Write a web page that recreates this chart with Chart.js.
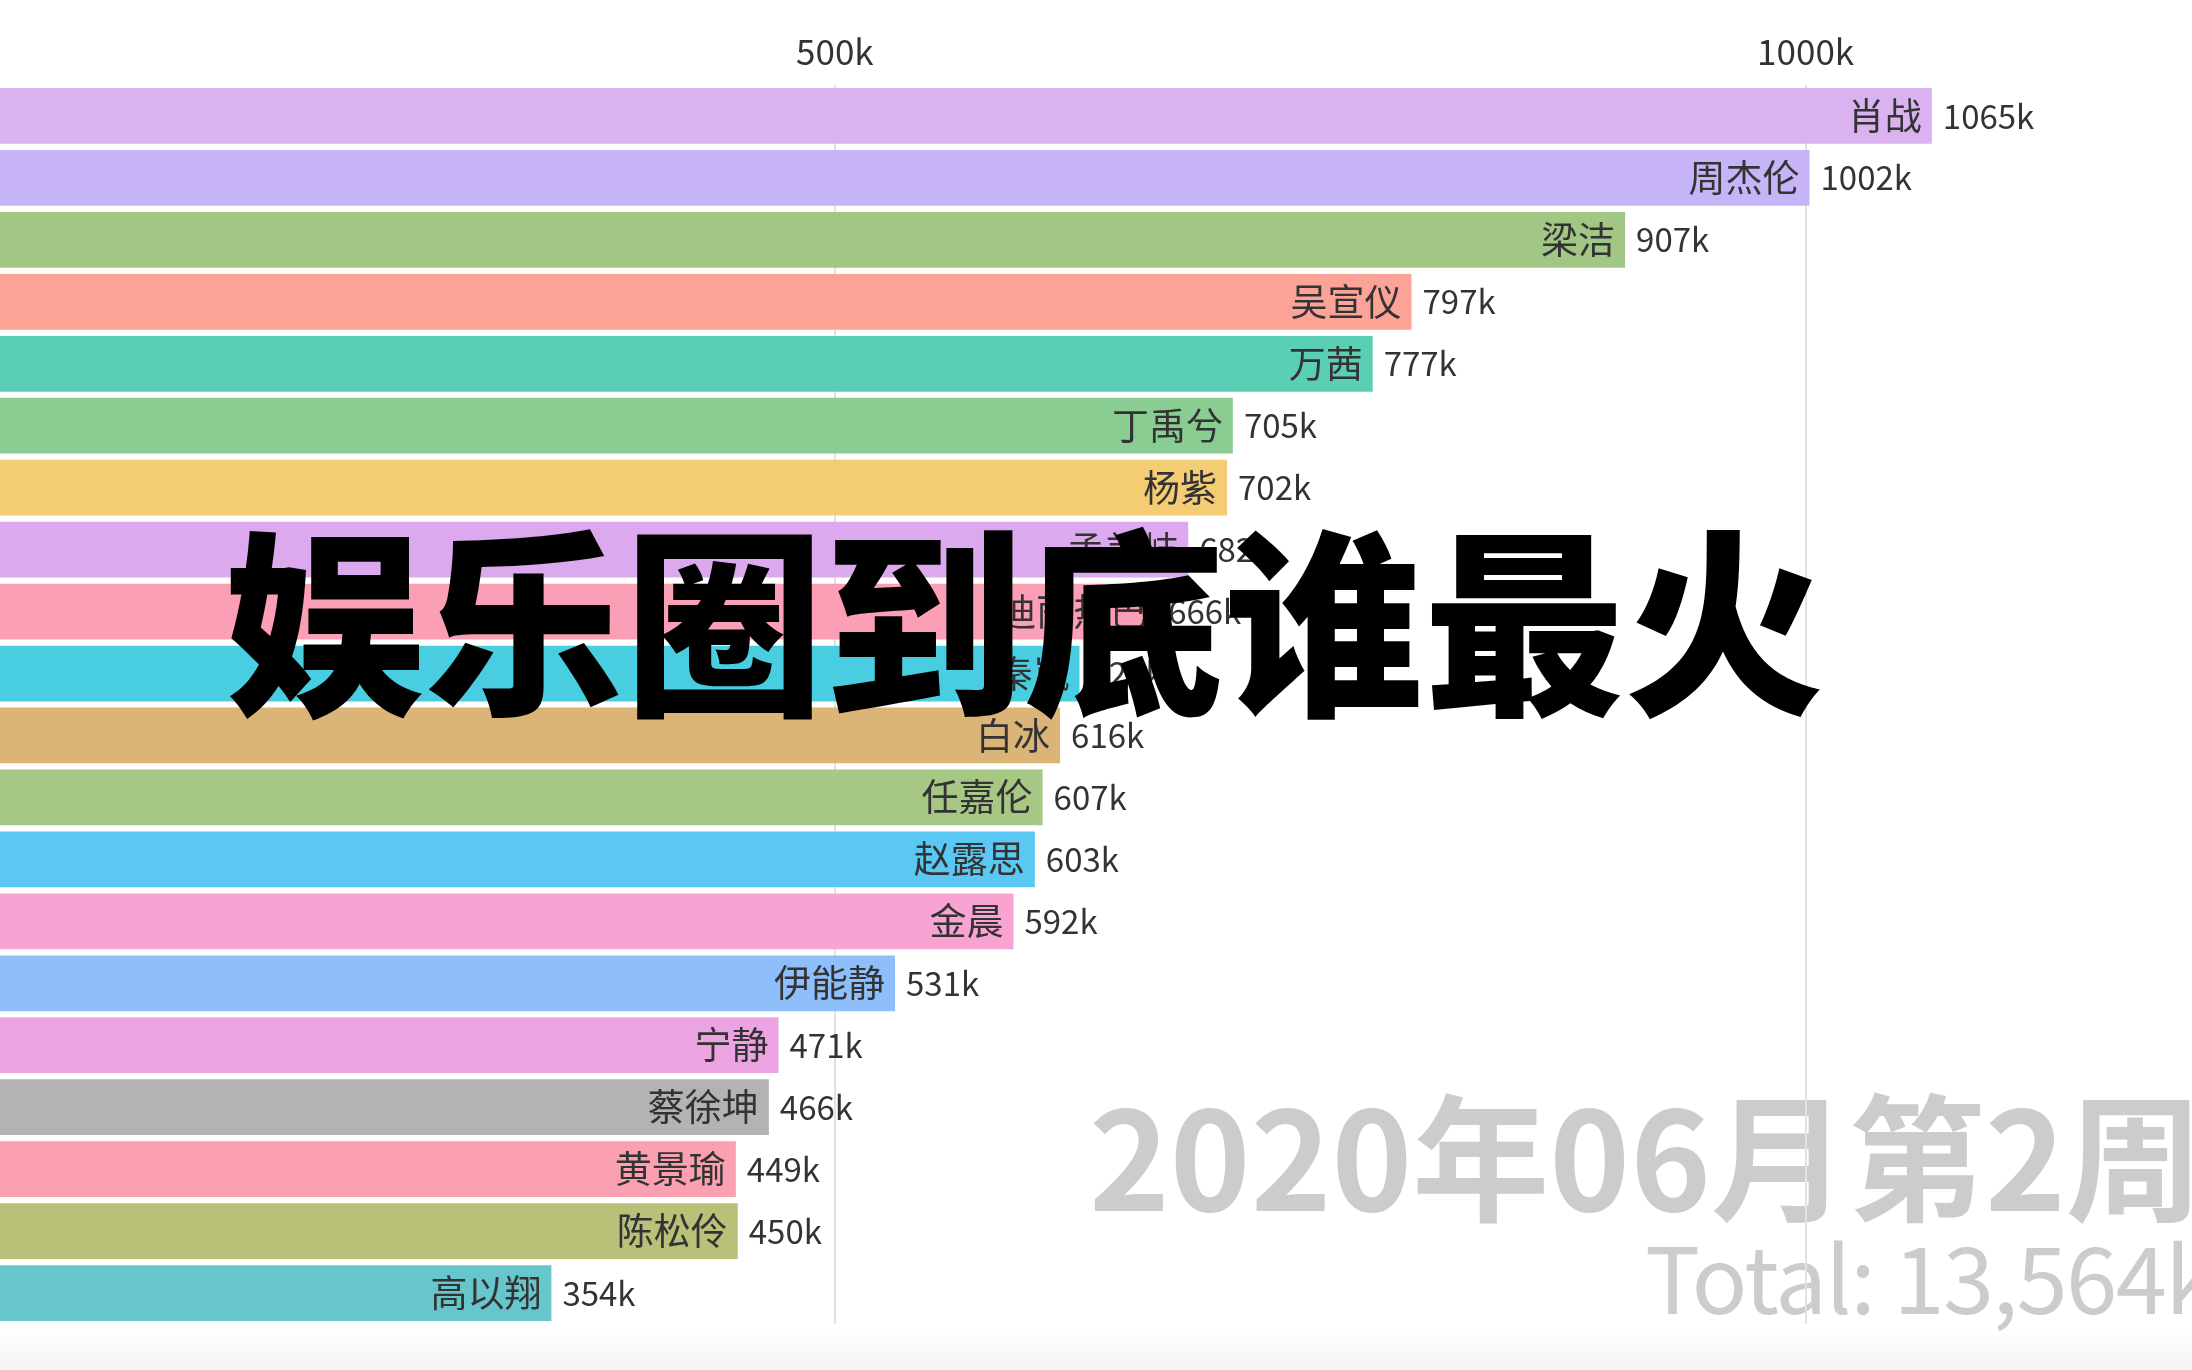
<!DOCTYPE html>
<html>
<head>
<meta charset="utf-8">
<script src="https://cdn.jsdelivr.net/npm/chart.js@4/dist/chart.umd.min.js"></script>
<style>
  html, body { margin: 0; padding: 0; width: 2192px; height: 1370px; overflow: hidden; background: #ffffff; }
  #wrap { position: relative; width: 2192px; height: 1370px; overflow: hidden;
          background: linear-gradient(to bottom, #ffffff 0px, #ffffff 1330px, #f4f4f4 1370px); }
  #chartBox { position: absolute; left: 0; top: 0; width: 2192px; height: 1370px; z-index: 2; }
  .bgText { position: absolute; z-index: 1; white-space: nowrap; font-family: "Noto Sans CJK SC", sans-serif; color: #cccccc; }
  #date { left: 1089px; top: 1083px; font-size: 137px; font-weight: 700; line-height: 1; }
  #total { left: 1645px; top: 1228px; font-size: 92px; font-weight: 400; line-height: 1; letter-spacing: -1.5px; }
  #title { position: absolute; z-index: 3; left: 224px; top: 513px; white-space: nowrap;
           font-family: "Noto Sans CJK SC", sans-serif; font-weight: 900; font-size: 200px; line-height: 1; color: #000; }
</style>
</head>
<body>
<div id="wrap">
  <div id="date" class="bgText"></div>
  <div id="total" class="bgText"></div>
  <div id="chartBox"><canvas id="c"></canvas></div>
  <div id="title"></div>
</div>
<script>
// ---- data ----
const titleText = "娱乐圈到底谁最火";
const periodLabel = "2020年06月第2周";
const totalLabel = "Total: 13,564k";
const names = ["肖战","周杰伦","梁洁","吴宣仪","万茜","丁禹兮","杨紫","孟美岐","迪丽热巴","秦岚",
               "白冰","任嘉伦","赵露思","金晨","伊能静","宁静","蔡徐坤","黄景瑜","陈松伶","高以翔"];
const values = [1065,1002,907,797,777,705,702,682,666,626,616,607,603,592,531,471,466,449,450,354]; // in thousands
const colors = ["#dab2f0","#c7b4f8","#a2c784","#fca398","#5bcfb6","#8acd93","#f4cc73","#dca8ee","#fa9fb5","#48cee0",
                "#dbb477","#a7c784","#5bc8f4","#f9a3d3","#8ebffb","#eca3e1","#b3b3b3","#fba0b1","#b9c178","#67c6cc"];
const tickValues = [500, 1000];
const axisMin = 70;
const axisMax = 1199;

document.getElementById('title').textContent = titleText;
document.getElementById('date').textContent = periodLabel;
document.getElementById('total').textContent = totalLabel;

const FONT = '"Noto Sans CJK SC", sans-serif';

const barLabels = {
  id: 'barLabels',
  afterDatasetsDraw(chart) {
    const ctx = chart.ctx;
    const meta = chart.getDatasetMeta(0);
    ctx.save();
    ctx.fillStyle = '#333333';
    ctx.textBaseline = 'middle';
    meta.data.forEach((el, i) => {
      ctx.font = '37px ' + FONT;
      ctx.textAlign = 'right';
      ctx.fillText(names[i], el.x - 10, el.y);
      ctx.font = '33px ' + FONT;
      ctx.textAlign = 'left';
      ctx.fillText(values[i] + 'k', el.x + 11, el.y);
    });
    ctx.restore();
  }
};

new Chart(document.getElementById('c'), {
  type: 'bar',
  data: {
    labels: names,
    datasets: [{
      data: values,
      backgroundColor: colors,
      borderWidth: 0,
      barPercentage: 0.9,
      categoryPercentage: 1.0
    }]
  },
  options: {
    indexAxis: 'y',
    responsive: true,
    maintainAspectRatio: false,
    animation: false,
    layout: { padding: { left: 0, right: 0, top: 0, bottom: 46 } },
    plugins: { legend: { display: false }, tooltip: { enabled: false } },
    scales: {
      x: {
        position: 'top',
        min: axisMin,
        max: axisMax,
        afterBuildTicks: (scale) => { scale.ticks = tickValues.map(v => ({ value: v })); },
        afterFit: (scale) => { scale.height = 85; scale.paddingLeft = 0; scale.paddingRight = 0; },
        border: { display: false },
        grid: { color: '#e2e2e2', lineWidth: 2, drawTicks: false },
        ticks: {
          padding: 12,
          color: '#333333',
          font: { family: FONT, size: 35 },
          callback: (v) => v + 'k'
        }
      },
      y: { display: false }
    }
  },
  plugins: [barLabels]
});
</script>
</body>
</html>
